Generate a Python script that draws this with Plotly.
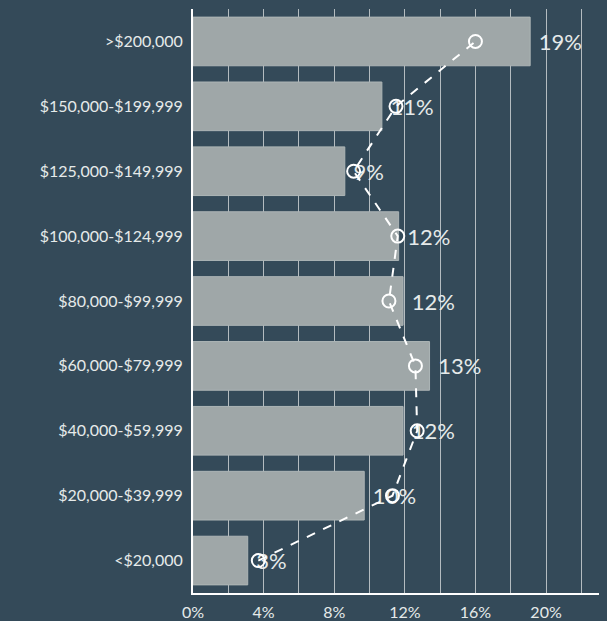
import plotly.graph_objects as go

# Income brackets, bottom to top as drawn
brackets = [
    "<$20,000",
    "$20,000-$39,999",
    "$40,000-$59,999",
    "$60,000-$79,999",
    "$80,000-$99,999",
    "$100,000-$124,999",
    "$125,000-$149,999",
    "$150,000-$199,999",
    ">$200,000",
]
bar_pct = [3.1, 9.7, 11.9, 13.4, 11.9, 11.65, 8.6, 10.7, 19.1]
line_pct = [3.7, 11.3, 12.7, 12.6, 11.1, 11.6, 9.1, 11.5, 16.0]
x_ticks = [0, 4, 8, 12, 16, 20]

BG = "#344a59"
BAR = "#9fa7a8"
GRID = "#b4bcc0"
TEXT = "#e6eaea"

fig = go.Figure()
fig.add_trace(
    go.Bar(
        x=bar_pct,
        y=brackets,
        orientation="h",
        marker=dict(color=BAR, line=dict(color="#adb5b6", width=1)),
        texttemplate=" %{x:.0f}%",
        textposition="outside",
        textfont=dict(size=22, color=TEXT, family="Lato"),
        constraintext="none",
        cliponaxis=False,
        showlegend=False,
    )
)
fig.add_trace(
    go.Scatter(
        x=line_pct,
        y=brackets,
        mode="lines+markers",
        line=dict(color="white", width=2, dash="dash"),
        marker=dict(symbol="circle-open", size=13, color="white", line=dict(width=2)),
        cliponaxis=False,
        showlegend=False,
    )
)
fig.update_layout(
    width=607,
    height=621,
    paper_bgcolor=BG,
    plot_bgcolor=BG,
    margin=dict(l=193, r=8, t=9, b=28),
    bargap=0.25,
    font=dict(family="Lato", color=TEXT, size=16),
    xaxis=dict(
        range=[0, 23],
        tickvals=x_ticks,
        ticktext=[f"{v}%" for v in x_ticks],
        showgrid=False,
        showline=True,
        linecolor="white",
        linewidth=2,
        zeroline=False,
        ticks="",
        automargin=False,
        ticklabelstandoff=4,
        tickfont=dict(size=16, color=TEXT),
        minor=dict(dtick=2, showgrid=True, gridcolor=GRID, gridwidth=1),
    ),
    yaxis=dict(
        range=[-0.5, len(brackets) - 0.5],
        showline=True,
        linecolor="white",
        linewidth=2,
        showgrid=False,
        ticks="",
        automargin=False,
        ticklabelstandoff=5,
        tickfont=dict(size=16, color=TEXT),
    ),
)
fig.write_html(
    "out.html",
    config={"displayModeBar": False},
    post_script="document.body.style.margin='0';document.body.style.background='%s';" % BG,
)
